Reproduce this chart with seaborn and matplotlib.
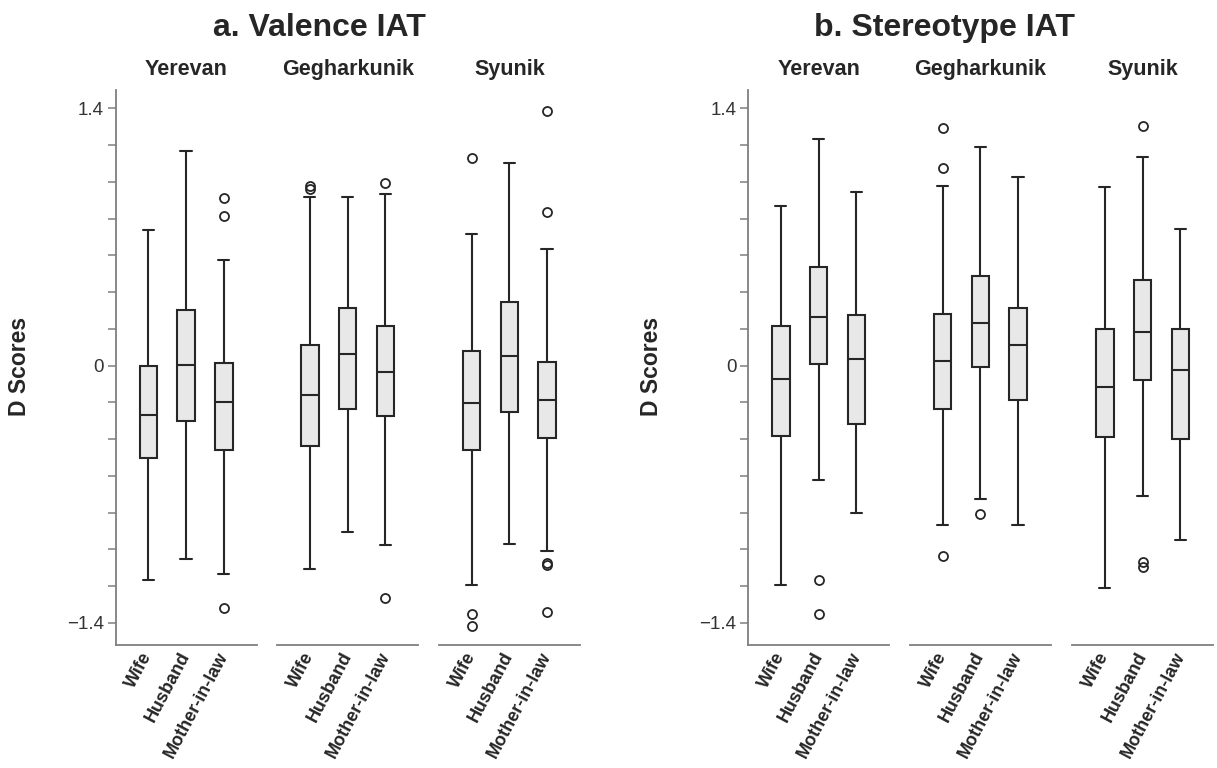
import matplotlib
matplotlib.use("Agg")
import matplotlib.pyplot as plt
import seaborn as sns
import pandas as pd
import numpy as np

regions = ["Yerevan", "Gegharkunik", "Syunik"]
targets = ["Wife", "Husband", "Mother-in-law"]

# box stats, order per region: Wife, Husband, Mother-in-law
# valence IAT
val_whislo = [[-1.167, -1.053, -1.135], [-1.106, -0.906, -0.975], [-1.195, -0.969, -1.011]]
val_q1 = [[-0.503, -0.300, -0.458], [-0.439, -0.236, -0.272], [-0.461, -0.252, -0.396]]
val_med = [[-0.271, 0.005, -0.196], [-0.158, 0.064, -0.034], [-0.203, 0.054, -0.185]]
val_q3 = [[0.000, 0.305, 0.013], [0.110, 0.314, 0.215], [0.082, 0.345, 0.020]]
val_whishi = [[0.739, 1.167, 0.577], [0.920, 0.919, 0.935], [0.717, 1.104, 0.636]]
val_fliers = [[[], [], [0.913, 0.817, -1.320]],
              [[0.960, 0.980], [], [0.995, -1.262]],
              [[1.131, -1.352, -1.414], [], [1.385, 0.835, -1.072, -1.082, -1.338]]]

# stereotype IAT
ste_whislo = [[-1.192, -0.620, -0.804], [-0.867, -0.725, -0.867], [-1.210, -0.710, -0.946]]
ste_q1 = [[-0.381, 0.010, -0.318], [-0.237, -0.005, -0.186], [-0.390, -0.080, -0.399]]
ste_med = [[-0.074, 0.263, 0.036], [0.027, 0.233, 0.110], [-0.118, 0.184, -0.024]]
ste_q3 = [[0.217, 0.536, 0.278], [0.280, 0.490, 0.316], [0.202, 0.468, 0.197]]
ste_whishi = [[0.870, 1.235, 0.943], [0.975, 1.192, 1.027], [0.970, 1.138, 0.744]]
ste_fliers = [[[], [-1.167, -1.351], []],
              [[1.295, 1.078, -1.035], [-0.809], []],
              [[], [1.303, -1.066, -1.094], []]]


def make_frame(whislo, q1, med, q3, whishi, fliers, k=40):
    # rebuild a sample per box that gives back the same quartiles/whiskers/outliers
    rows = []
    for i, reg in enumerate(regions):
        for j, t in enumerate(targets):
            vals = ([whislo[i][j]] + [q1[i][j]] * k + [med[i][j]] * k
                    + [q3[i][j]] * k + [whishi[i][j]] + list(fliers[i][j]))
            for v in vals:
                rows.append({"region": reg, "target": t, "D": v})
    return pd.DataFrame(rows)


df_val = make_frame(val_whislo, val_q1, val_med, val_q3, val_whishi, val_fliers)
df_ste = make_frame(ste_whislo, ste_q1, ste_med, ste_q3, ste_whishi, ste_fliers)

sns.set_style("white")
plt.rcParams["font.family"] = ["Liberation Sans", "DejaVu Sans"]

W, H = 1217, 768
fig = plt.figure(figsize=(W / 100, H / 100), dpi=100)

line_col = "#7f7f7f"
dark = "#262626"

panels = [
    (df_val, "a. Valence IAT", [115.7, 277.3, 439.0], 319, 20),
    (df_ste, "b. Stereotype IAT", [748.3, 910.0, 1072.3], 944, 652),
]
ax_top, ax_bot = 90, 645
facet_w = 141

for df, title, lefts, title_x, ylab_x in panels:
    for i, reg in enumerate(regions):
        ax = fig.add_axes([lefts[i] / W, 1 - ax_bot / H, facet_w / W, (ax_bot - ax_top) / H])
        sub = df[df["region"] == reg]
        sns.boxplot(data=sub, x="target", y="D", order=targets, ax=ax,
                    width=0.46, color="#e8e8e8", linecolor=dark, linewidth=1.5,
                    fliersize=6.5, capwidths=0.3,
                    flierprops={"markeredgewidth": 1.3, "marker": "o"})
        ax.set_xlim(-0.86, 2.87)
        ax.set_ylim(-1.52, 1.50)
        ax.set_xlabel("")
        ax.set_ylabel("")
        for s in ["top", "right"]:
            ax.spines[s].set_visible(False)
        ax.spines["bottom"].set_color(line_col)
        ax.spines["bottom"].set_linewidth(1.3)
        ax.tick_params(axis="x", length=0, pad=6)
        ax.set_xticks(range(3))
        ax.set_xticklabels(targets, rotation=62, ha="right", va="center",
                           rotation_mode="anchor", fontsize=13, fontweight="bold",
                           color=dark)
        if i == 0:
            ax.spines["left"].set_color(line_col)
            ax.spines["left"].set_linewidth(1.3)
            yt = np.round(np.arange(-1.4, 1.41, 0.2), 1)
            ax.set_yticks(yt)
            ax.set_yticklabels(["\u22121.4" if v == -1.4 else ("0" if v == 0 else ("1.4" if v == 1.4 else ""))
                                for v in yt], fontsize=13.5, color="#333333")
            ax.tick_params(axis="y", length=6, width=1.1, color=line_col, pad=2.5, left=True)
        else:
            ax.spines["left"].set_visible(False)
            ax.set_yticks([])
        ax.set_title(reg, fontsize=15.5, fontweight="bold", color=dark, pad=11)
    fig.text(title_x / W, 1 - 28 / H, title, ha="center", va="center",
             fontsize=23, fontweight="bold", color=dark)
    fig.text(ylab_x / W, 1 - 366 / H, "D Scores", ha="center", va="center",
             rotation=90, fontsize=16.5, fontweight="bold", color=dark)

fig.savefig("out.png", dpi=100)
